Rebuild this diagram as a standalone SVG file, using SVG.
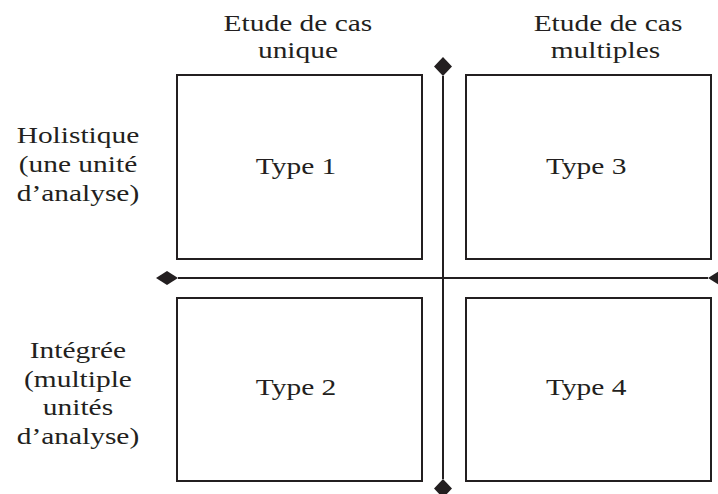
<svg xmlns="http://www.w3.org/2000/svg" width="718" height="494" viewBox="0 0 718 494">
<style>
.box{fill:#fff;stroke:#231f20;stroke-width:2}
.axis{fill:none;stroke:#231f20;stroke-width:2}
.lbl{font-family:"Liberation Serif","Times New Roman",serif;font-size:23px;fill:#231f20;text-anchor:middle}
</style>
<defs>
<marker id="dH" markerUnits="userSpaceOnUse" markerWidth="22" markerHeight="14" viewBox="0 0 22 14" refX="0" refY="7" orient="auto-start-reverse">
<path d="M0,7 L11,0 L22,7 L11,14 Z" fill="#231f20"/>
</marker>
<marker id="dV" markerUnits="userSpaceOnUse" markerWidth="19" markerHeight="18" viewBox="0 0 19 18" refX="0" refY="9" orient="auto-start-reverse">
<path d="M0,9 L9.5,0 L19,9 L9.5,18 Z" fill="#231f20"/>
</marker>
</defs>
<rect width="718" height="494" fill="#fff"/>
<g id="connectors">
<path class="axis" d="M178,278 L708,278" marker-start="url(#dH)" marker-end="url(#dH)"/>
<path class="axis" d="M443,76 L443,479" marker-start="url(#dV)" marker-end="url(#dV)"/>
</g>
<g id="type1"><rect class="box" x="177" y="75" width="245" height="184"/>
<g transform="scale(1.28 1)"><text class="lbl" x="231.3" y="174">Type 1</text></g></g>
<g id="type3"><rect class="box" x="466" y="75" width="245" height="184"/>
<g transform="scale(1.28 1)"><text class="lbl" x="458" y="174">Type 3</text></g></g>
<g id="type2"><rect class="box" x="177" y="298" width="245" height="183"/>
<g transform="scale(1.28 1)"><text class="lbl" x="231.3" y="395">Type 2</text></g></g>
<g id="type4"><rect class="box" x="466" y="298" width="245" height="183"/>
<g transform="scale(1.28 1)"><text class="lbl" x="458" y="395">Type 4</text></g></g>
<g id="header-unique" transform="scale(1.28 1)">
<text class="lbl" x="232.8" y="31">Etude de cas</text>
<text class="lbl" x="232.8" y="58">unique</text>
</g>
<g id="header-multiples" transform="scale(1.28 1)">
<text class="lbl" x="475" y="31">Etude de cas</text>
<text class="lbl" x="473" y="58">multiples</text>
</g>
<g id="row-holistique" transform="scale(1.28 1)">
<text class="lbl" x="60.9" y="143">Holistique</text>
<text class="lbl" x="60.9" y="172">(une unité</text>
<text class="lbl" x="60.9" y="201">d’analyse)</text>
</g>
<g id="row-integree" transform="scale(1.28 1)">
<text class="lbl" x="60.9" y="358">Intégrée</text>
<text class="lbl" x="60.9" y="387">(multiple</text>
<text class="lbl" x="60.9" y="415">unités</text>
<text class="lbl" x="60.9" y="444">d’analyse)</text>
</g>
</svg>
